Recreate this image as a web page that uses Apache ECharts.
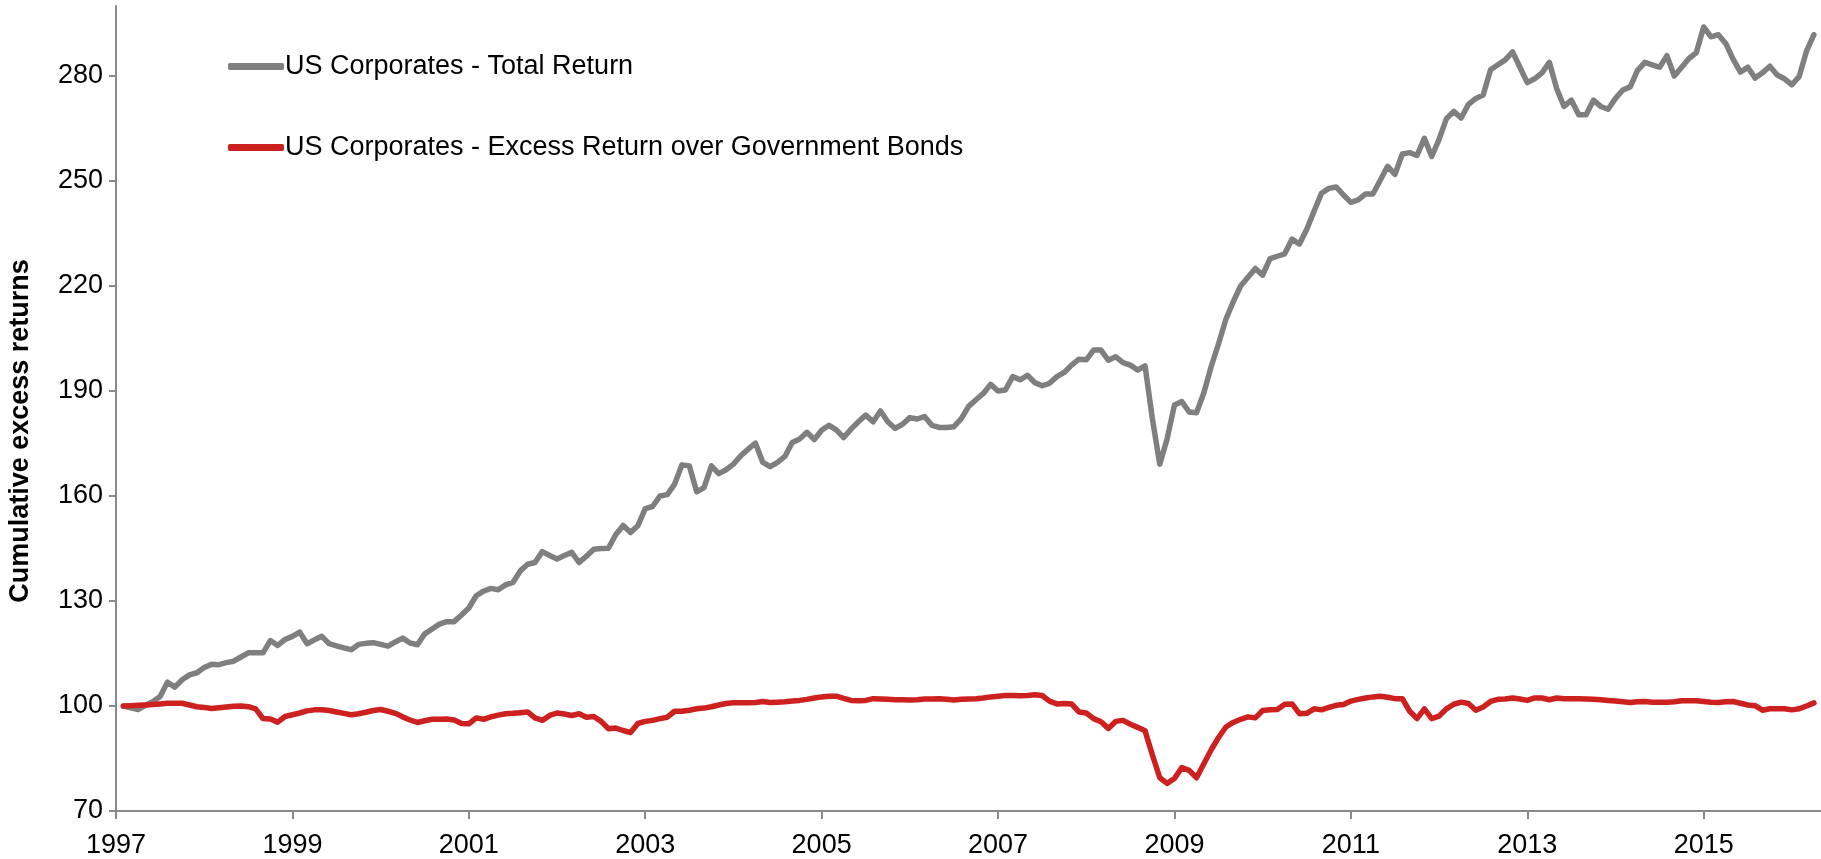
<!DOCTYPE html>
<html>
<head>
<meta charset="utf-8">
<style>
  html, body { margin: 0; padding: 0; background: #ffffff; }
  #chart { width: 1821px; height: 859px; }
</style>
<script src="https://cdn.jsdelivr.net/npm/echarts@6/dist/echarts.min.js"></script>
</head>
<body>
<div id="chart"></div>
<script>
// Monthly index levels, month-end observations from January 1997 to March 2016
const startYear = 1997;

const totalReturn = [
  100.0, 99.5, 99.0, 100.2, 101.2, 102.7, 106.8, 105.4, 107.5, 108.9, 109.5, 111.0,
  111.9, 111.8, 112.4, 112.8, 114.0, 115.2, 115.2, 115.2, 118.7, 117.3, 119.0, 119.9,
  121.1, 117.8, 118.9, 119.9, 117.8, 117.2, 116.6, 116.1, 117.6, 117.9, 118.1, 117.6,
  117.1, 118.3, 119.4, 118.0, 117.5, 120.6, 122.0, 123.4, 124.1, 124.1, 126.0, 128.0,
  131.5, 132.8, 133.6, 133.2, 134.6, 135.3, 138.6, 140.5, 141.0, 144.1, 143.0, 142.0,
  143.0, 143.9, 141.0, 142.8, 144.8, 145.0, 145.1, 149.0, 151.6, 149.6, 151.5, 156.4,
  157.0, 160.0, 160.4, 163.4, 168.9, 168.6, 161.2, 162.4, 168.6, 166.4, 167.5, 169.1,
  171.5, 173.4, 175.1, 169.6, 168.4, 169.6, 171.3, 175.3, 176.3, 178.2, 176.1, 178.8,
  180.2, 178.9, 176.7, 179.1, 181.2, 183.1, 181.2, 184.3, 181.2, 179.3, 180.5, 182.4,
  182.0, 182.7, 180.2, 179.6, 179.6, 179.8, 182.1, 185.6, 187.5, 189.3, 191.9, 190.0,
  190.3, 194.1, 193.2, 194.5, 192.4, 191.5, 192.2, 194.1, 195.3, 197.4, 199.1, 198.9,
  201.7, 201.7, 198.8, 199.8, 198.1, 197.4, 196.0, 197.2, 182.0, 169.1, 176.3, 186.0,
  187.0, 184.0, 183.8, 189.5, 197.0, 203.5, 210.5, 215.5, 220.0, 222.5, 225.0, 223.1,
  227.8, 228.5, 229.2, 233.4, 232.0, 236.2, 241.4, 246.5, 247.9, 248.3, 246.0, 243.9,
  244.6, 246.3, 246.3, 250.2, 254.2, 251.9, 257.7, 258.1, 257.3, 262.2, 257.0, 261.9,
  267.8, 269.9, 268.0, 271.9, 273.6, 274.6, 281.8, 283.2, 284.6, 286.9, 282.5, 278.1,
  279.2, 280.9, 283.9, 276.4, 271.3, 273.1, 268.9, 268.9, 273.1, 271.3, 270.5, 273.6,
  276.0, 276.9, 281.6, 283.9, 283.2, 282.5, 285.8, 280.0, 282.5, 285.0, 286.7, 294.0,
  291.2, 291.8, 289.3, 284.8, 281.1, 282.5, 279.4, 280.9, 282.8, 280.3, 279.2, 277.5,
  279.9, 287.2, 291.8
];

const excessReturn = [
  100.0, 100.1, 100.2, 100.3, 100.4, 100.6, 100.8, 100.8, 100.8, 100.3, 99.8, 99.6,
  99.3, 99.5, 99.7, 99.9, 100.0, 99.8, 99.2, 96.4, 96.3, 95.4, 97.0, 97.5,
  98.0, 98.6, 98.9, 98.95, 98.7, 98.3, 97.9, 97.5, 97.8, 98.2, 98.7, 99.0,
  98.5, 97.9, 96.9, 96.0, 95.3, 95.8, 96.2, 96.2, 96.3, 96.0, 95.0, 94.9,
  96.6, 96.2, 96.9, 97.4, 97.8, 97.9, 98.1, 98.3, 96.6, 95.9, 97.3, 98.0,
  97.7, 97.3, 97.8, 96.8, 97.0, 95.6, 93.5, 93.7, 93.0, 92.4, 95.0, 95.6,
  95.9, 96.4, 96.8, 98.5, 98.5, 98.8, 99.2, 99.4, 99.8, 100.3, 100.7, 100.95,
  100.95, 100.95, 101.0, 101.3, 101.0, 101.1, 101.2, 101.4, 101.6, 101.9, 102.3, 102.6,
  102.8, 102.8, 102.2, 101.6, 101.5, 101.6, 102.1, 102.0, 101.9, 101.8, 101.8, 101.7,
  101.8, 102.0, 102.0, 102.1, 101.9, 101.7, 101.9, 102.0, 102.1, 102.3, 102.6, 102.8,
  103.0, 103.0, 102.9, 103.0, 103.2, 103.0, 101.4, 100.6, 100.7, 100.6, 98.3, 98.0,
  96.4, 95.5, 93.6, 95.6, 95.9, 94.8, 93.9, 92.9, 86.0, 79.5, 77.9, 79.3,
  82.4, 81.6, 79.5, 83.5, 87.5, 91.0, 94.0, 95.3, 96.2, 96.9, 96.6, 98.7,
  98.9, 99.0, 100.5, 100.6, 97.8, 97.9, 99.2, 98.9, 99.6, 100.2, 100.4, 101.4,
  101.9, 102.3, 102.6, 102.8, 102.5, 102.1, 102.1, 98.5, 96.4, 99.2, 96.4, 97.1,
  99.2, 100.5, 101.1, 100.7, 98.8, 99.7, 101.3, 101.9, 102.0, 102.3, 102.0, 101.6,
  102.3, 102.3, 101.8, 102.3, 102.1, 102.1, 102.1, 102.0, 101.9, 101.8, 101.6, 101.4,
  101.2, 101.0, 101.2, 101.3, 101.1, 101.1, 101.1, 101.2, 101.5, 101.5, 101.5, 101.3,
  101.1, 101.0, 101.2, 101.3, 100.8, 100.3, 100.1, 98.8, 99.2, 99.2, 99.2, 98.9,
  99.2, 100.0, 100.9
];

const seriesNames = [
  'US Corporates - Total Return',
  'US Corporates - Excess Return over Government Bonds'
];
const yearTicks = [1997, 1999, 2001, 2003, 2005, 2007, 2009, 2011, 2013, 2015];
const valueTicks = [70, 100, 130, 160, 190, 220, 250, 280];
const yTitle = 'Cumulative excess returns';

// month-end position of observation i on a fractional-year scale
const toPoints = (values) => values.map((v, i) => [startYear + (i + 1) / 12, v]);

const FONT = '"Liberation Sans", Arial, sans-serif';
const AXIS_GREY = '#898989';

const chart = echarts.init(document.getElementById('chart'), null, { renderer: 'canvas' });

chart.setOption({
  animation: false,
  backgroundColor: '#ffffff',
  grid: { left: 116, right: 0, top: 6, bottom: 47, containLabel: false },
  legend: {
    orient: 'vertical',
    left: 223,
    top: 48,
    itemGap: 54,
    itemWidth: 56,
    itemHeight: 7,
    icon: 'roundRect',
    textStyle: { fontFamily: FONT, fontSize: 27, color: '#000000', padding: [0, 0, 0, -4] },
    data: seriesNames
  },
  xAxis: {
    type: 'value',
    min: 1997,
    max: 2016.33,
    interval: 2,
    axisLine: { show: true, lineStyle: { color: AXIS_GREY, width: 2 } },
    axisTick: { show: true, inside: false, length: 8, customValues: yearTicks,
                lineStyle: { color: AXIS_GREY, width: 2 } },
    axisLabel: { customValues: yearTicks, formatter: (v) => String(v), margin: 21,
                 fontFamily: FONT, fontSize: 27, color: '#000000' },
    splitLine: { show: false }
  },
  yAxis: {
    type: 'value',
    min: 70,
    max: 300,
    interval: 30,
    axisLine: { show: true, lineStyle: { color: AXIS_GREY, width: 2 } },
    axisTick: { show: true, inside: false, length: 7, customValues: valueTicks,
                lineStyle: { color: AXIS_GREY, width: 2 } },
    axisLabel: { customValues: valueTicks, formatter: (v) => String(v), margin: 13,
                 fontFamily: FONT, fontSize: 27, color: '#000000' },
    splitLine: { show: false }
  },
  graphic: [{
    type: 'text',
    x: 21,
    y: 431,
    rotation: Math.PI / 2,
    style: {
      text: yTitle,
      fontFamily: FONT,
      fontSize: 27,
      fontWeight: 'bold',
      fill: '#000000',
      align: 'center',
      verticalAlign: 'middle'
    }
  }],
  series: [
    {
      name: seriesNames[0],
      type: 'line',
      data: toPoints(totalReturn),
      symbol: 'none',
      color: '#7F7F7F',
      lineStyle: { width: 5.5, color: '#7F7F7F', join: 'round', cap: 'round' }
    },
    {
      name: seriesNames[1],
      type: 'line',
      data: toPoints(excessReturn),
      symbol: 'none',
      color: '#CD2120',
      lineStyle: { width: 5.5, color: '#CD2120', join: 'round', cap: 'round' }
    }
  ]
});
</script>
</body>
</html>
